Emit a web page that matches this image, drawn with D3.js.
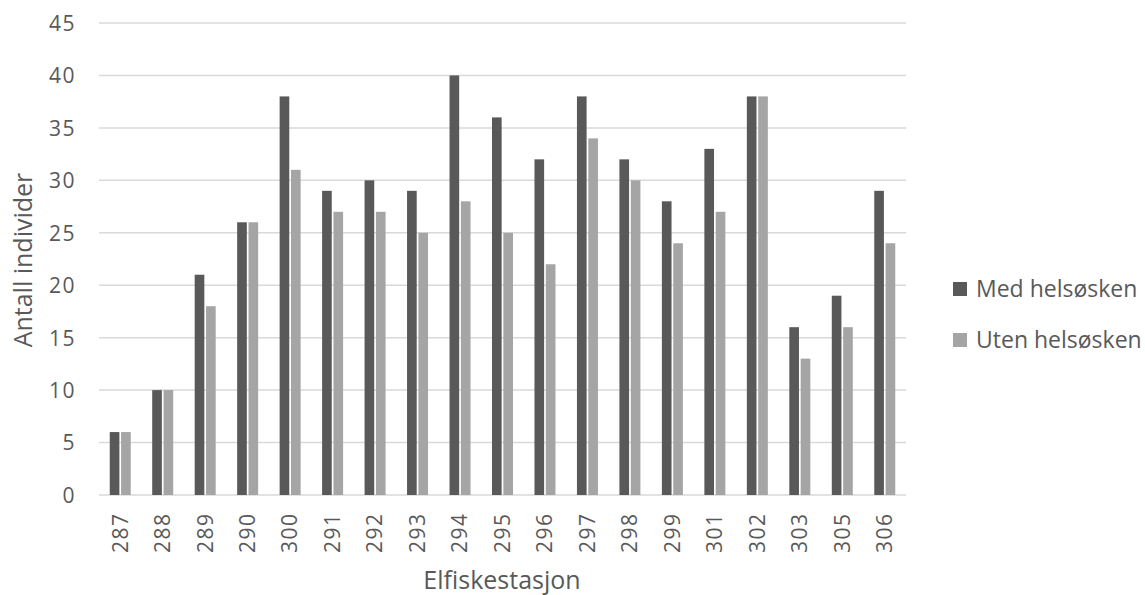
<!DOCTYPE html>
<html>
<head>
<meta charset="utf-8">
<script src="https://cdn.jsdelivr.net/npm/d3@7"></script>
<style>
  body { margin: 0; background: #fff; }
  svg text { font-family: "Open Sans", "Noto Sans", sans-serif; fill: #595959; }
</style>
</head>
<body>
<svg id="chart" width="1145" height="595"></svg>
<script>
// Fish sampling stations and counts per station
const stations = ["287","288","289","290","300","291","292","293","294","295","296","297","298","299","301","302","303","305","306"];
const medHelsosken  = [6, 10, 21, 26, 38, 29, 30, 29, 40, 36, 32, 38, 32, 28, 33, 38, 16, 19, 29];
const utenHelsosken = [6, 10, 18, 26, 31, 27, 27, 25, 28, 25, 22, 34, 30, 24, 27, 38, 13, 16, 24];
const seriesNames = ["Med helsøsken", "Uten helsøsken"];
const seriesColors = ["#595959", "#a5a5a5"];
const yTicks = [0, 5, 10, 15, 20, 25, 30, 35, 40, 45];

const svg = d3.select("#chart");
const plotLeft = 99, plotRight = 906, plotTop = 23, plotBottom = 495;

const x = d3.scaleBand().domain(stations).range([plotLeft, plotRight]).padding(0);
const y = d3.scaleLinear().domain([0, 45]).range([plotBottom, plotTop]);
const inner = d3.scaleBand().domain([0, 1]).range([-10.5, 10.5]).paddingInner(0.15);

// Horizontal gridlines
svg.append("g").selectAll("line").data(yTicks).join("line")
  .attr("x1", plotLeft).attr("x2", plotRight)
  .attr("y1", d => y(d)).attr("y2", d => y(d))
  .attr("stroke", "#d9d9d9").attr("stroke-width", 1.5);

// Y axis labels
const yAxis = d3.axisLeft(y).tickValues(yTicks).tickSize(0).tickPadding(0);
const gy = svg.append("g").attr("transform", `translate(76,0)`).call(yAxis);
gy.select(".domain").remove();
gy.selectAll("text").style("font-size", "21px").style("letter-spacing", "1.5px")
  .attr("fill", "#595959").attr("dy", "0.35em");

// Bars
const data = stations.map((s, i) => ({ s, vals: [medHelsosken[i], utenHelsosken[i]] }));
const groups = svg.append("g").selectAll("g").data(data).join("g")
  .attr("transform", d => `translate(${x(d.s) + x.bandwidth() / 2},0)`);
groups.selectAll("rect").data(d => d.vals.map((v, k) => ({ v, k }))).join("rect")
  .attr("x", d => inner(d.k))
  .attr("width", inner.bandwidth())
  .attr("y", d => y(d.v))
  .attr("height", d => y(0) - y(d.v))
  .attr("fill", d => seriesColors[d.k]);

// X axis labels, rotated
const xAxis = d3.axisBottom(x).tickSize(0).tickPadding(0);
const gx = svg.append("g").attr("transform", `translate(0,${plotBottom})`).call(xAxis);
gx.select(".domain").remove();
gx.selectAll("text")
  .style("font-size", "21px").style("letter-spacing", "1.5px").attr("fill", "#595959")
  .attr("text-anchor", "start")
  .attr("transform", "rotate(-90)")
  .attr("x", -58).attr("y", 0).attr("dy", "0.35em");

// Axis titles
svg.append("text").attr("x", 502).attr("y", 589)
  .attr("text-anchor", "middle").style("font-size", "25px").text("Elfiskestasjon");
svg.append("text").attr("transform", "translate(32,260) rotate(-90)")
  .attr("text-anchor", "middle").style("font-size", "25px").text("Antall individer");

// Legend
const legend = svg.append("g").selectAll("g").data(seriesNames).join("g")
  .attr("transform", (d, i) => `translate(953,${289 + i * 51})`);
legend.append("rect").attr("x", 0).attr("y", -7).attr("width", 14).attr("height", 14)
  .attr("fill", (d, i) => seriesColors[i]);
legend.append("text").attr("x", 23).attr("y", 0).attr("dy", "0.35em")
  .style("font-size", "23px").text(d => d);
</script>
</body>
</html>
